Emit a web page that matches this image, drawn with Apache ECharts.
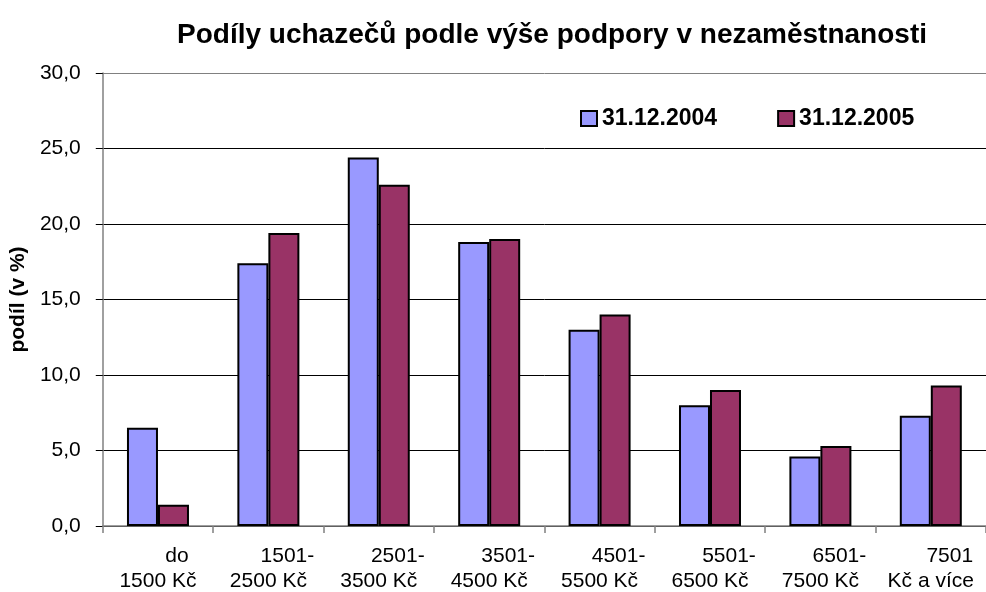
<!DOCTYPE html>
<html>
<head>
<meta charset="utf-8">
<script src="https://cdn.jsdelivr.net/npm/echarts@6/dist/echarts.min.js"></script>
<style>
  html, body { margin: 0; padding: 0; background: #fff; }
  #chart { width: 986px; height: 592px; }
</style>
</head>
<body>
<div id="chart"></div>
<script>
const categories = [
  ['do', '1500 Kč'],
  ['1501-', '2500 Kč'],
  ['2501-', '3500 Kč'],
  ['3501-', '4500 Kč'],
  ['4501-', '5500 Kč'],
  ['5501-', '6500 Kč'],
  ['6501-', '7500 Kč'],
  ['7501', 'Kč a více']
]
const values2004 = [6.5, 17.4, 24.4, 18.8, 13.0, 8.0, 4.6, 7.3]
const values2005 = [1.4, 19.4, 22.6, 19.0, 14.0, 9.0, 5.3, 9.3]
const seriesNames = ['31.12.2004', '31.12.2005']
const seriesColors = ['#9999FF', '#993366']

const font = 'Arial, "Liberation Sans", sans-serif'
const chart = echarts.init(document.getElementById('chart'))

const makeBar = (name, data, color) => ({
  name: name,
  type: 'bar',
  data: data,
  barWidth: 31,
  barGap: '0%',
  itemStyle: { color: color, borderColor: '#000', borderWidth: 2 },
  emphasis: { disabled: true }
})

const option = {
  animation: false,
  backgroundColor: '#fff',
  title: {
    text: 'Podíly uchazečů podle výše podpory v nezaměstnanosti',
    left: 547,
    textAlign: 'center',
    top: 16,
    textStyle: { fontFamily: font, fontSize: 28, fontWeight: 'bold', color: '#000' }
  },
  legend: {
    left: 575,
    top: 102,
    itemWidth: 16,
    itemHeight: 15,
    itemGap: 60,
    icon: 'rect',
    textStyle: { fontFamily: font, fontSize: 23, fontWeight: 'bold', color: '#000' },
    data: seriesNames
  },
  grid: { left: 101, right: -9, top: 73, bottom: 65, containLabel: false },
  xAxis: {
    type: 'category',
    data: categories.map(c => c.join('\n')),
    axisLine: { lineStyle: { color: '#808080', width: 1.5 } },
    axisTick: { show: true, length: 7, lineStyle: { color: '#808080', width: 1.5 } },
    axisLabel: {
      margin: 18,
      interval: 0,
      color: '#000',
      fontFamily: font,
      fontSize: 21,
      formatter: v => {
        const lines = v.split('\n')
        return '{a|' + lines[0] + '}\n{b|' + lines[1] + '}'
      },
      rich: {
        a: { fontFamily: font, fontSize: 21, lineHeight: 25, color: '#000', padding: [0, 0, 0, 38] },
        b: { fontFamily: font, fontSize: 21, lineHeight: 25, color: '#000' }
      }
    }
  },
  yAxis: {
    type: 'value',
    min: 0,
    max: 30,
    interval: 5,
    name: 'podíl (v %)',
    nameLocation: 'middle',
    nameRotate: 90,
    nameGap: 60,
    nameTextStyle: { fontFamily: font, fontSize: 21, fontWeight: 'bold', color: '#000' },
    axisLine: { show: true, lineStyle: { color: '#808080', width: 1.5 } },
    axisTick: { show: true, length: 7, lineStyle: { color: '#000' } },
    axisLabel: {
      margin: 22,
      color: '#000',
      fontFamily: font,
      fontSize: 21,
      formatter: v => v.toFixed(1).replace('.', ',')
    },
    splitLine: {
      show: true,
      lineStyle: { color: ['#000', '#000', '#000', '#000', '#000', '#000', '#808080'], width: 1 }
    }
  },
  series: [
    makeBar(seriesNames[0], values2004, seriesColors[0]),
    makeBar(seriesNames[1], values2005, seriesColors[1])
  ]
}

chart.setOption(option)
</script>
</body>
</html>
